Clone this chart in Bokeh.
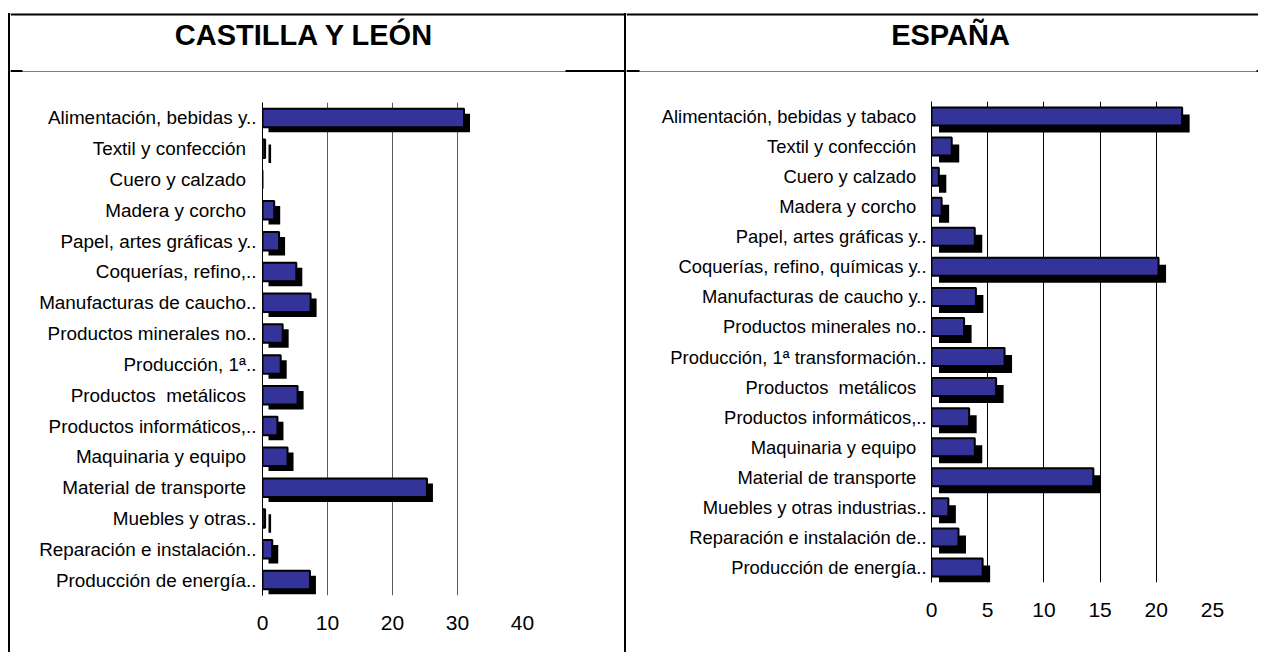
from bokeh.plotting import figure
from bokeh.models import Range1d, FactorRange, FixedTicker, Div, ColumnDataSource
from bokeh.layouts import row, column
from bokeh.transform import dodge
from bokeh.core.properties import value
from bokeh.embed import file_html
from bokeh.resources import INLINE

FONT = "Liberation Sans"

# ---------------- data ----------------
titles = ["CASTILLA Y LEÓN", "ESPAÑA"]

cyl_categories = [
    "Alimentación, bebidas y..", "Textil y confección", "Cuero y calzado",
    "Madera y corcho", "Papel, artes gráficas y..", "Coquerías, refino,..",
    "Manufacturas de caucho..", "Productos minerales no..", "Producción, 1ª..",
    "Productos  metálicos", "Productos informáticos,..", "Maquinaria y equipo",
    "Material de transporte", "Muebles y otras..", "Reparación e instalación..",
    "Producción de energía..",
]
cyl_values = [31.0, 0.4, 0.0, 1.8, 2.55, 5.2, 7.4, 3.1, 2.8, 5.4, 2.3, 3.85,
              25.3, 0.4, 1.5, 7.3]
cyl_ticks = [0, 10, 20, 30, 40]

esp_categories = [
    "Alimentación, bebidas y tabaco", "Textil y confección", "Cuero y calzado",
    "Madera y corcho", "Papel, artes gráficas y..", "Coquerías, refino, químicas y..",
    "Manufacturas de caucho y..", "Productos minerales no..",
    "Producción, 1ª transformación..", "Productos  metálicos",
    "Productos informáticos,..", "Maquinaria y equipo", "Material de transporte",
    "Muebles y otras industrias..", "Reparación e instalación de..",
    "Producción de energía..",
]
esp_values = [22.3, 1.8, 0.65, 0.9, 3.85, 20.2, 3.95, 2.9, 6.5, 5.75, 3.35, 3.85,
              14.4, 1.5, 2.4, 4.55]
esp_ticks = [0, 5, 10, 15, 20, 25]

BAR_BLUE = "#333399"


def display_label(c):
    # keep double spaces and the trailing gap of the un-truncated labels visible
    shown = c.replace("  ", "\u00a0 ")
    if not c.endswith(".."):
        shown = shown + "\u00a0\u00a0"
    return shown


def title_fig(text, width, text_x, thick_segments):
    H = 64
    p = figure(width=width, height=H, x_range=Range1d(0, width), y_range=Range1d(H, 0),
               output_backend="svg", toolbar_location=None, min_border=0,
               x_axis_location=None, y_axis_location=None, frame_align=False)
    p.grid.visible = False
    p.outline_line_color = None
    p.background_fill_color = "white"
    p.border_fill_color = "white"
    p.segment(x0=[0], y0=[6], x1=[width], y1=[6], line_width=2, line_color="black")
    p.segment(x0=[0], y0=[63.5], x1=[width], y1=[63.5], line_width=1, line_color="black")
    for a, b in thick_segments:
        p.segment(x0=[a], y0=[63], x1=[b], y1=[63], line_width=3, line_color="black")
    p.text(x=[text_x], y=[26], text=[text], text_font=value(FONT),
           text_font_style="bold", text_font_size="29px", text_align="center",
           text_baseline="middle", text_color="black")
    return p


def chart_fig(cats, vals, ticks, width, height, mb_left, mb_right, mb_top, mb_bottom,
              grid_color, shadow_px, label_size, tick_size, standoff):
    xmax = ticks[-1]
    frame_w = width - mb_left - mb_right
    frame_h = height - mb_top - mb_bottom
    dx = shadow_px[0] * xmax / frame_w
    dy = shadow_px[1] * len(cats) / frame_h

    shown = [display_label(c) for c in cats]

    p = figure(width=width, height=height,
               y_range=FactorRange(factors=list(reversed(shown))),
               x_range=Range1d(0, xmax),
               output_backend="svg", toolbar_location=None, frame_align=False,
               min_border_left=mb_left, min_border_right=mb_right,
               min_border_top=mb_top, min_border_bottom=mb_bottom)
    p.outline_line_color = None
    p.background_fill_color = "white"
    p.border_fill_color = "white"

    src = ColumnDataSource(dict(cat=shown, val=vals))
    p.hbar(y=dodge("cat", -dy, range=p.y_range), right=dodge("val", dx), left=dx,
           height=0.6, fill_color="black", line_color=None, source=src)
    p.hbar(y="cat", right="val", left=0, height=0.6, fill_color=BAR_BLUE,
           line_color="black", line_width=2, source=src)

    p.ygrid.visible = False
    p.xgrid.ticker = FixedTicker(ticks=ticks[1:-1])
    p.xgrid.grid_line_color = grid_color
    p.xgrid.grid_line_width = 1

    xa = p.xaxis[0]
    xa.ticker = FixedTicker(ticks=ticks)
    xa.axis_line_color = None
    xa.major_tick_line_color = None
    xa.minor_tick_line_color = None
    xa.major_label_standoff = 14
    xa.major_label_text_font = FONT
    xa.major_label_text_font_size = tick_size
    xa.major_label_text_color = "black"

    ya = p.yaxis[0]
    ya.axis_line_color = "black"
    ya.axis_line_width = 1
    ya.major_tick_line_color = None
    ya.minor_tick_line_color = None
    ya.major_tick_out = 0
    ya.major_tick_in = 0
    ya.major_label_standoff = standoff
    ya.major_label_text_font = FONT
    ya.major_label_text_font_size = label_size
    ya.major_label_text_color = "black"
    return p


W1, W2 = 614, 632
t1 = title_fig(titles[0], W1, 294, [(0, 12), (555, W1)])
t2 = title_fig(titles[1], W2, 324, [(0, 13), (630, W2)])

c1 = chart_fig(cyl_categories, cyl_values, cyl_ticks, W1, 580,
               mb_left=252, mb_right=102, mb_top=30, mb_bottom=57,
               grid_color="#5a5a5a", shadow_px=(6, 5), label_size="18.9px",
               tick_size="21px", standoff=6)
c2 = chart_fig(esp_categories, esp_values, esp_ticks, W2, 580,
               mb_left=305, mb_right=46, mb_top=29, mb_bottom=70,
               grid_color="black", shadow_px=(7.5, 7), label_size="18.4px",
               tick_size="21px", standoff=5)


def strip():
    return Div(text="", width=2, height=639, margin=(5, 0, 0, 0),
               styles={"background-color": "black"})


layout = row(strip(), column(t1, c1), strip(), column(t2, c2), margin=(8, 0, 0, 8))

open("out.html", "w").write(file_html(layout, INLINE))
